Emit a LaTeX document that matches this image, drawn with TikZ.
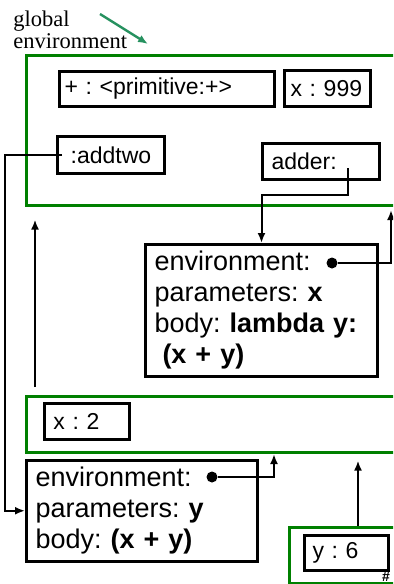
\documentclass[tikz,border=0pt]{standalone}
\usepackage{fontspec}
\setmainfont{Liberation Sans}
\newfontfamily\labelfont{Liberation Serif}
\usetikzlibrary{arrows.meta}
\frenchspacing
\definecolor{framegreen}{RGB}{0, 128, 0}
\definecolor{seagreen}{RGB}{38, 145, 95}
\tikzset{
  frame/.style  = {draw=framegreen, line width=1.3pt, anchor=north west, inner sep=0pt},
  slot/.style   = {draw, line width=1.5pt, anchor=north west, align=left, inner ysep=0pt,
                   font=\fontsize{11.5}{13}\selectfont},
  funbox/.style = {draw, line width=1.5pt, anchor=north west, align=left, inner xsep=4.5pt,
                   font=\fontsize{13.5}{15.5}\selectfont},
  ptr/.style    = {circle, fill, inner sep=0pt, minimum size=5.5pt},
  conn/.style   = {line width=1pt, -{Latex[length=5pt,width=4pt]}},
}

\begin{document}
\begin{tikzpicture}[x=0.5pt, y=-0.5pt]
  \useasboundingbox (0,0) rectangle (393,584);
  \clip (0,0) rectangle (393,584);

  % frames
  \node[frame, minimum width=192.5pt, minimum height=75pt] (gframe) at ( 25, 54) {};
  \node[frame, minimum width=192.5pt, minimum height=28pt] (eframe) at ( 25,395) {};
  \node[frame, minimum width=61pt,    minimum height=28pt] (yframe) at (288,526) {};

  \node[anchor=north west, inner sep=0pt, align=left, font=\labelfont\fontsize{11.25}{11}\selectfont]
       (glabel) at (13,10) {global\\environment};
  \coordinate (gfrom) at (100,14);
  \coordinate (gto)   at (148,44);
  \draw[seagreen, line width=1.2pt, -{Latex[length=5pt,width=4pt]}] (gfrom) -- (gto);

  % bindings
  \node[slot, text width=102.5pt, inner xsep=2.5pt, minimum height=17.5pt] (plus)   at ( 58, 70) {+ : <primitive:+>};
  \node[slot, text width=37pt,    inner xsep=3pt,   minimum height=18pt]   (xnine)  at (283, 69) {x : 999};
  \node[slot, text width=47.5pt,  inner xsep=3pt,   minimum height=18.5pt, align=center] (addtwo) at ( 56,135) {:addtwo};
  \node[slot, text width=49.5pt,  inner xsep=4.5pt, minimum height=18pt]   (adder)  at (261,142) {adder:};
  \node[slot, text width=33.5pt,  inner xsep=4.5pt, minimum height=18pt]   (xtwo)   at ( 43,402) {x : 2};
  \node[slot, text width=34pt,    inner xsep=4pt,   minimum height=17.5pt] (ysix)   at (303,534) {y : 6};

  % functions
  \node[funbox, text width=107pt, minimum height=65pt] (fun1) at (144,243)
       {environment:\\parameters: \textbf{x}\\body: \textbf{lambda y:}\\\hspace*{4pt}\textbf{(x + y)}};
  \node[funbox, text width=106.5pt, minimum height=49pt] (fun2) at ( 25,459)
       {environment:\\parameters: \textbf{y}\\body: \textbf{(x + y)}};
  \node[ptr] (dot1) at (332,263) {};
  \node[ptr] (dot2) at (212,477) {};

  % pointers
  \coordinate (adderptr) at (348,168);
  \coordinate (gbot)     at (391,204);
  \coordinate (ebot)     at (274,451);
  \coordinate (eup)      at ( 35,395);
  \coordinate (yup)      at (358,526);
  \draw[conn] (adderptr) -- ++(0,27) -| (fun1.north);
  \draw[conn] ([xshift=3pt]addtwo.west) -- ++(-57,0) |- (fun2.west);
  \draw[conn, shorten >=3pt]   (dot1) -| (gbot);
  \draw[conn, shorten >=1.5pt] (dot2) -| (ebot);
  \draw[conn, shorten <=4pt, shorten >=6.5pt] (eup) -- (eup |- gframe.south);
  \draw[conn, shorten >=3.5pt] (yup) -- (yup |- eframe.south);

  \node[font=\bfseries\fontsize{7}{7}\selectfont, inner sep=0pt] (hash) at (386,577) {\#};
\end{tikzpicture}
\end{document}
